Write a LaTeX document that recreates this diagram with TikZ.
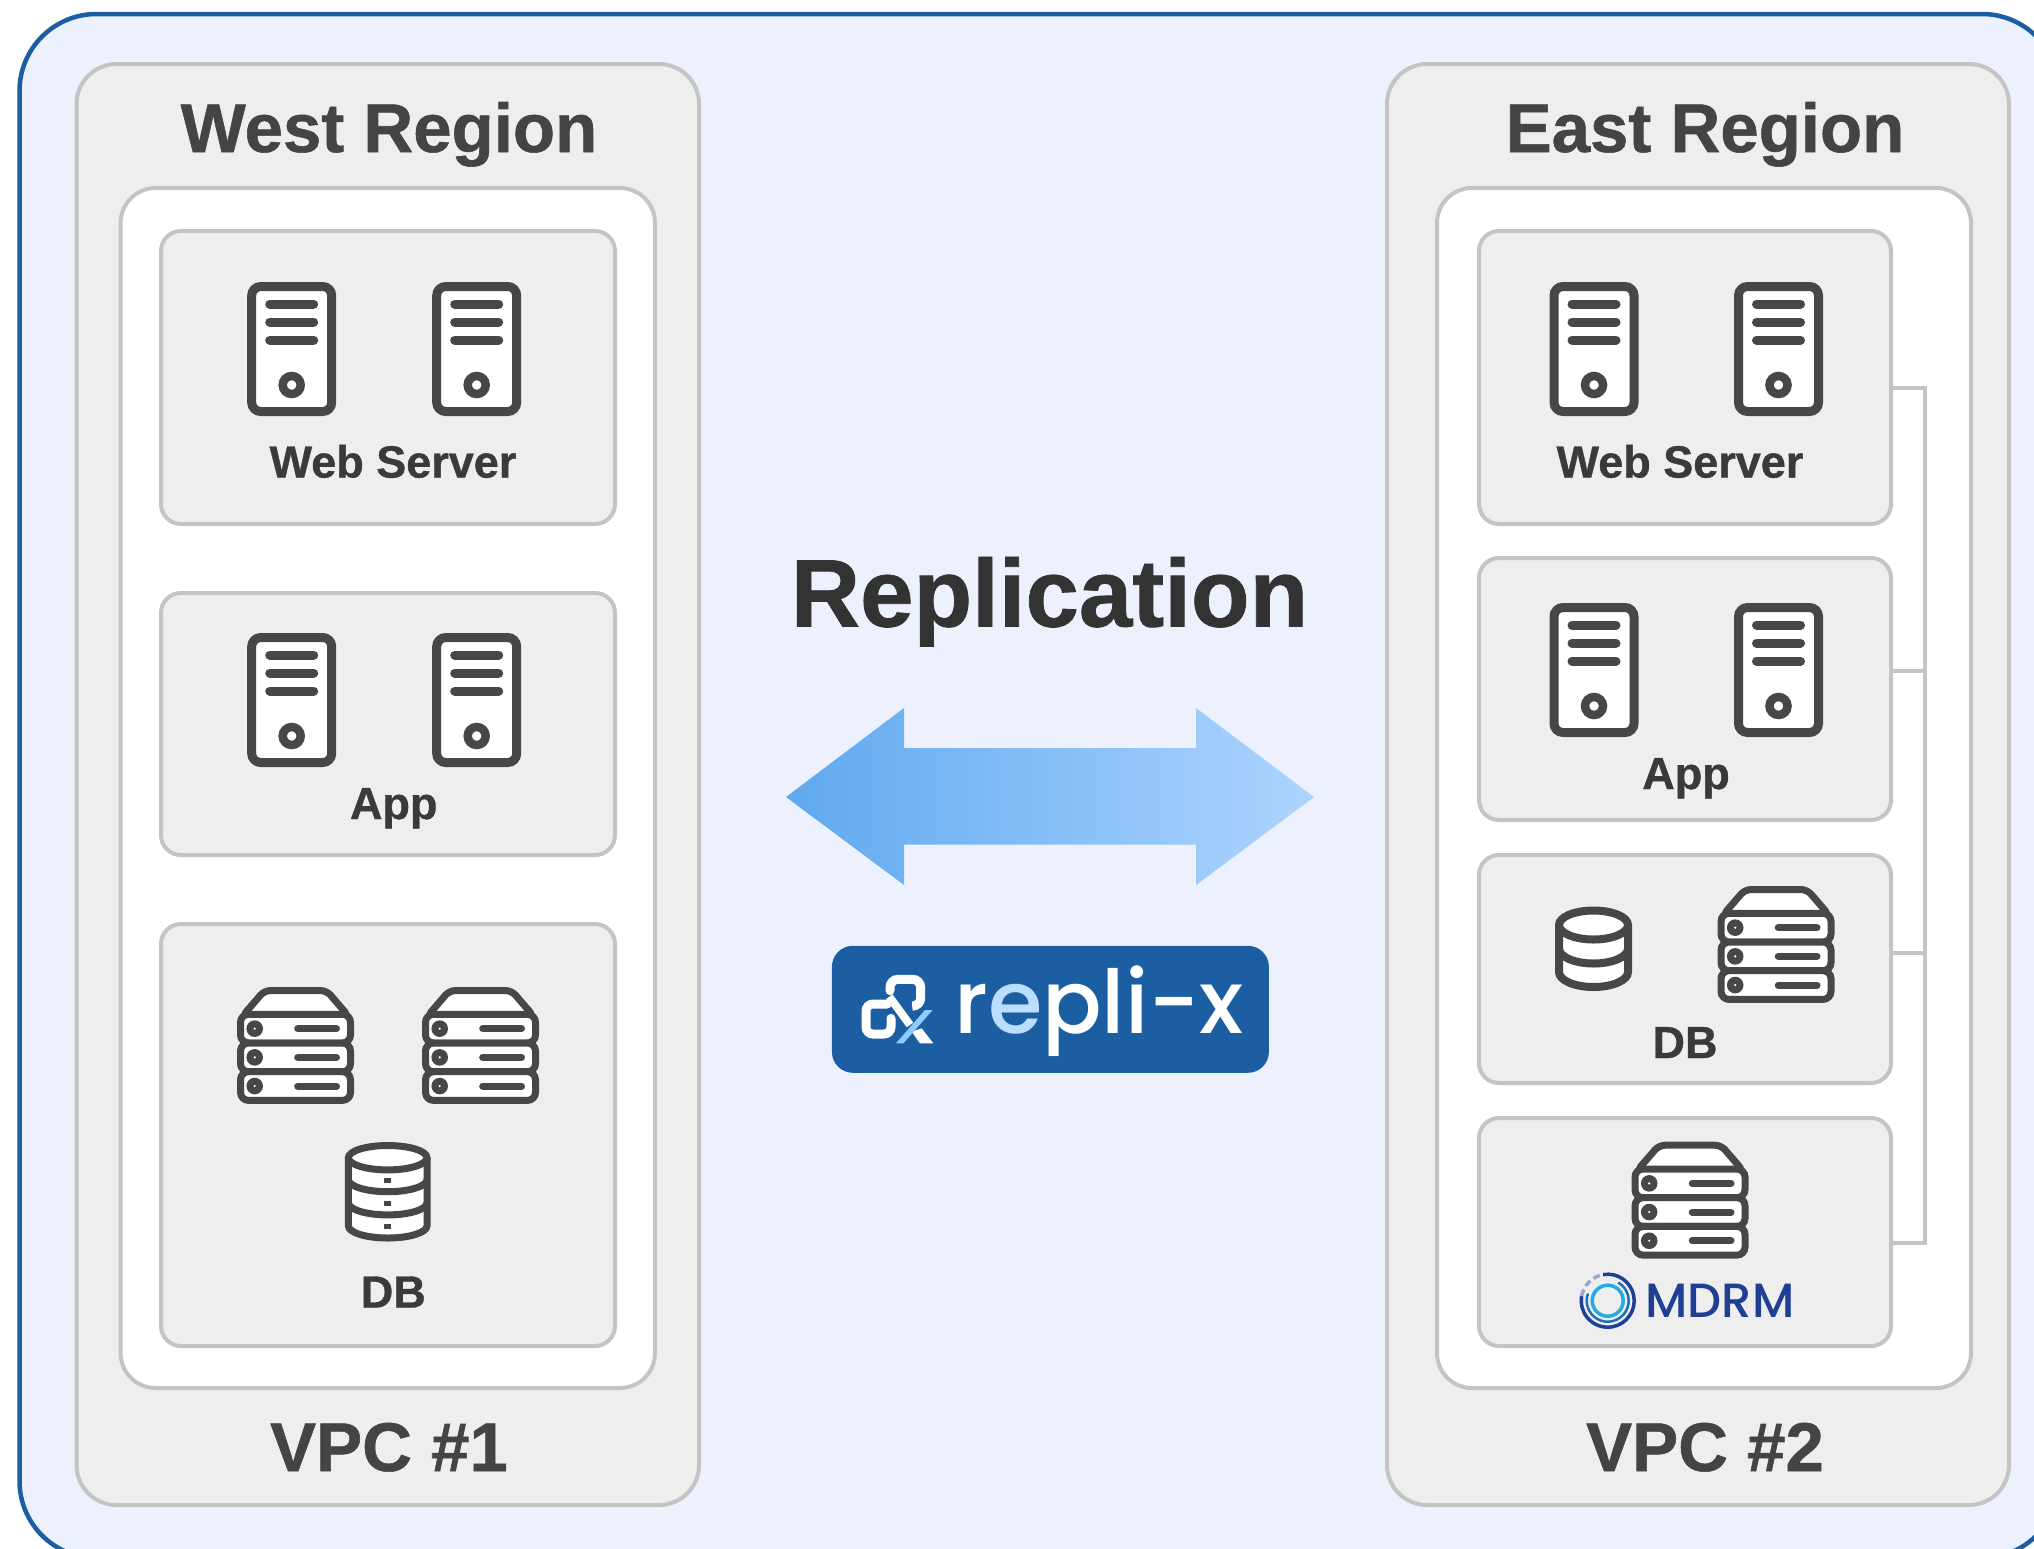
\documentclass[tikz,border=0pt]{standalone}
\usepackage{fontspec}
\setmainfont[BoldFeatures={FakeBold=0.8}]{Liberation Sans}
\newfontfamily\logofont[UprightFont={* Medium}]{Poppins}

\definecolor{pagefill}{HTML}{EDF1FD}
\definecolor{edgeblue}{HTML}{1B5EA2}
\definecolor{panelfill}{HTML}{EEEEEE}
\definecolor{paneledge}{HTML}{C4C4C4}
\definecolor{icongray}{HTML}{474747}
\definecolor{headgray}{HTML}{444444}
\definecolor{labelgray}{HTML}{3A3A3A}
\definecolor{replgray}{HTML}{333333}
\definecolor{mdrmblue}{HTML}{1F3F92}
\definecolor{mdrmmid}{HTML}{1F6FB5}
\definecolor{mdrmcyan}{HTML}{27A9E1}
\definecolor{arrowleft}{HTML}{5FA9EF}
\definecolor{arrowright}{HTML}{ADD4FF}
\definecolor{logopale}{HTML}{B9DEFF}
\definecolor{logosky}{HTML}{8FCBFF}

\tikzset{
  regionbox/.style = {draw=paneledge, fill=panelfill, line width=4pt, rounded corners=40pt, inner sep=0pt},
  vpcbox/.style = {draw=paneledge, fill=white, line width=4pt, rounded corners=35pt, inner sep=0pt},
  tierbox/.style = {draw=paneledge, fill=panelfill, line width=4pt, rounded corners=20pt, inner sep=0pt},
  logobox/.style = {fill=edgeblue, rounded corners=21pt, inner sep=0pt},
  headtext/.style = {font=\fontsize{69pt}{80pt}\selectfont\bfseries, text=headgray, anchor=base, inner sep=0pt},
  tiertext/.style = {font=\fontsize{45pt}{50pt}\selectfont\bfseries, text=labelgray, anchor=base, inner sep=0pt},
  buswire/.style = {draw=paneledge, line width=4pt, line join=miter},
  iconline/.style = {draw=icongray, fill=white},
  pics/towericon/.style = {code = {
    \draw[iconline, line width=9pt, rounded corners=9pt] (-40,4.5) rectangle (40,129.5);
    \foreach \ybar in {22,40,58}
      \draw[icongray, line width=9pt, line cap=round] (-22,\ybar) -- (22,\ybar);
    \draw[iconline, line width=8.5pt] (0,103) circle (9);
  }},
  pics/rackicon/.style = {code = {
    \draw[iconline, line width=7pt, rounded corners=6pt] (-53,29) -- (-31,3.5) -- (31,3.5) -- (53,29) -- cycle;
    \foreach \yrow in {27.3,56,84.7} {
      \draw[iconline, line width=7pt, rounded corners=8pt] (-55,\yrow) rectangle (55,\yrow+28.7);
      \fill[icongray] (-40.8,\yrow+14.35) circle (8.3);
      \fill[white] (-40.8,\yrow+14.35) circle (1.2);
      \draw[icongray, line width=7pt, line cap=round] (2.2,\yrow+14.35) -- (41,\yrow+14.35);
    }
  }},
  pics/stackicon/.style = {code = {
    \draw[iconline, line width=7pt] (-39.3,15.7) -- (-39.3,83.8) arc (180:0:39.3 and 12.2) -- (39.3,15.7);
    \foreach \ylayer in {37.5,60.7}
      \draw[icongray, line width=7pt] (-39.3,\ylayer) arc (180:0:39.3 and 12.2);
    \draw[iconline, line width=7pt] (0,15.7) ellipse (39.3 and 12.2);
    \foreach \ydot in {38.7,61.5,84.5}
      \fill[icongray] (-3.7,\ydot-2.7) rectangle (3.7,\ydot+2.7);
  }},
  pics/drumicon/.style = {code = {
    \draw[iconline, line width=8pt] (-34.5,18.5) -- (-34.5,65.5) arc (180:0:34.5 and 15) -- (34.5,18.5);
    \draw[icongray, line width=8pt] (-34.5,42) arc (180:0:34.5 and 15);
    \draw[iconline, line width=8pt] (0,18.5) ellipse (34.5 and 14.5);
  }},
}

\begin{document}
\begin{tikzpicture}[x=1pt, y=-1pt]
\useasboundingbox (0,0) rectangle (2034,1548);
\clip (0,0) rectangle (2034,1548);

\draw[draw=edgeblue, fill=pagefill, line width=4.5pt, rounded corners=77pt] (19.5,14) rectangle (2059,1558);

% west side
\node[regionbox, minimum width=622.5pt, minimum height=1441pt] (westregion) at (387.8,784.5) {};
\node[vpcbox, minimum width=534.4pt, minimum height=1200pt] (westvpc) at (387.8,788) {};
\node[tierbox, minimum width=454pt, minimum height=293pt] (westweb) at (388,377.5) {};
\node[tierbox, minimum width=454pt, minimum height=262pt] (westapp) at (388,724) {};
\node[tierbox, minimum width=454pt, minimum height=422pt] (westdb) at (388,1135) {};
\node[headtext] (westhead) at (389,152) {West Region};
\node[headtext] (westvpcname) at (389,1471) {VPC \#1};
\node[tiertext] (westweblabel) at (393,477.5) {Web Server};
\node[tiertext] (westapplabel) at (393.7,819) {App};
\node[tiertext] (westdblabel) at (393.3,1307.5) {DB};
\pic at (291.7,282) {towericon};
\pic at (476.7,282) {towericon};
\pic at (291.7,633) {towericon};
\pic at (476.7,633) {towericon};
\pic at (295.5,987) {rackicon};
\pic at (480.5,987) {rackicon};
\pic at (387.7,1142) {stackicon};

% east side
\node[regionbox, minimum width=622pt, minimum height=1441pt] (eastregion) at (1698,784.5) {};
\node[vpcbox, minimum width=534pt, minimum height=1200pt] (eastvpc) at (1704,788) {};
\coordinate (busweb) at (1925,388);
\coordinate (busapp) at (1925,671);
\coordinate (busdb) at (1925,953);
\coordinate (busmdrm) at (1925,1243);
\node[tierbox, minimum width=412pt, minimum height=293pt] (eastweb) at (1685,377.5) {};
\node[tierbox, minimum width=412pt, minimum height=262pt] (eastapp) at (1685,689) {};
\node[tierbox, minimum width=412pt, minimum height=228pt] (eastdb) at (1685,969) {};
\node[tierbox, minimum width=412pt, minimum height=228pt] (eastmdrm) at (1685,1232) {};
\draw[buswire] (eastweb.east |- busweb) -- (busweb) -- (busmdrm) -- (eastmdrm.east |- busmdrm);
\draw[buswire] (eastapp.east |- busapp) -- (busapp);
\draw[buswire] (eastdb.east |- busdb) -- (busdb);
\node[headtext] (easthead) at (1705,152) {East Region};
\node[headtext] (eastvpcname) at (1705,1471) {VPC \#2};
\node[tiertext] (eastweblabel) at (1680,477.5) {Web Server};
\node[tiertext] (eastapplabel) at (1686,789) {App};
\node[tiertext] (eastdblabel) at (1685,1058) {DB};
\pic at (1594,282) {towericon};
\pic at (1778.5,282) {towericon};
\pic at (1594,603) {towericon};
\pic at (1778.5,603) {towericon};
\pic at (1593.5,906.5) {drumicon};
\pic at (1776,886) {rackicon};
\pic at (1690,1141.7) {rackicon};

% mdrm mark
\draw[mdrmblue, line width=3.5pt] (1607.7,1300.7) ++(-100:26.5) arc (-100:190:26.5);
\draw[mdrmblue!45, line width=3.5pt, dash pattern=on 7pt off 4pt] (1607.7,1300.7) ++(190:26.5) arc (190:258:26.5);
\draw[mdrmmid, line width=2.5pt] (1607.7,1300.7) ++(-60:21) arc (-60:200:21);
\draw[mdrmcyan, line width=3.5pt] (1607.7,1300.7) circle (15.5);
\node[font=\logofont\fontsize{48pt}{50pt}\selectfont, text=mdrmblue, anchor=base, inner sep=0pt] (mdrmname) at (1720,1317.3) {MDRM};

% middle
\node[font=\fontsize{96pt}{100pt}\selectfont\bfseries, text=replgray, anchor=base, inner sep=0pt] (replname) at (1049.5,626.5) {Replication};
\shade[left color=arrowleft, right color=arrowright] (786,797) -- (904,708) -- (904,748) -- (1196,748) -- (1196,708) -- (1314,797) -- (1196,885) -- (1196,844.5) -- (904,844.5) -- (904,885) -- cycle;
\node[logobox, minimum width=437pt, minimum height=127pt] (replixbox) at (1050.4,1009.3) {};
\begin{scope}[shift={(810,930)}, scale=0.3333]
  \draw[white, line width=9pt, rounded corners=7pt, line cap=round] (232,222) -- (168,222) -- (168,312) -- (243,312) -- (243,265);
  \draw[white, line width=9pt, rounded corners=8pt, line cap=round] (240,182) -- (240,148) -- (332,148) -- (332,228) -- (312,228);
  \draw[white, line width=8pt] (238,200) -- (300,285);
  \fill[white] (305,305) -- (330,340) -- (370,340) -- (335,295) -- cycle;
  \fill[logosky] (345,240) -- (368,240) -- (280,340) -- (258,340) -- cycle;
\end{scope}
\node[font=\logofont\fontsize{88pt}{90pt}\selectfont, text=white, anchor=base, inner sep=0pt] (replixname) at (1099,1033) {r\textcolor{logopale}{e}pli-x};
\end{tikzpicture}
\end{document}
